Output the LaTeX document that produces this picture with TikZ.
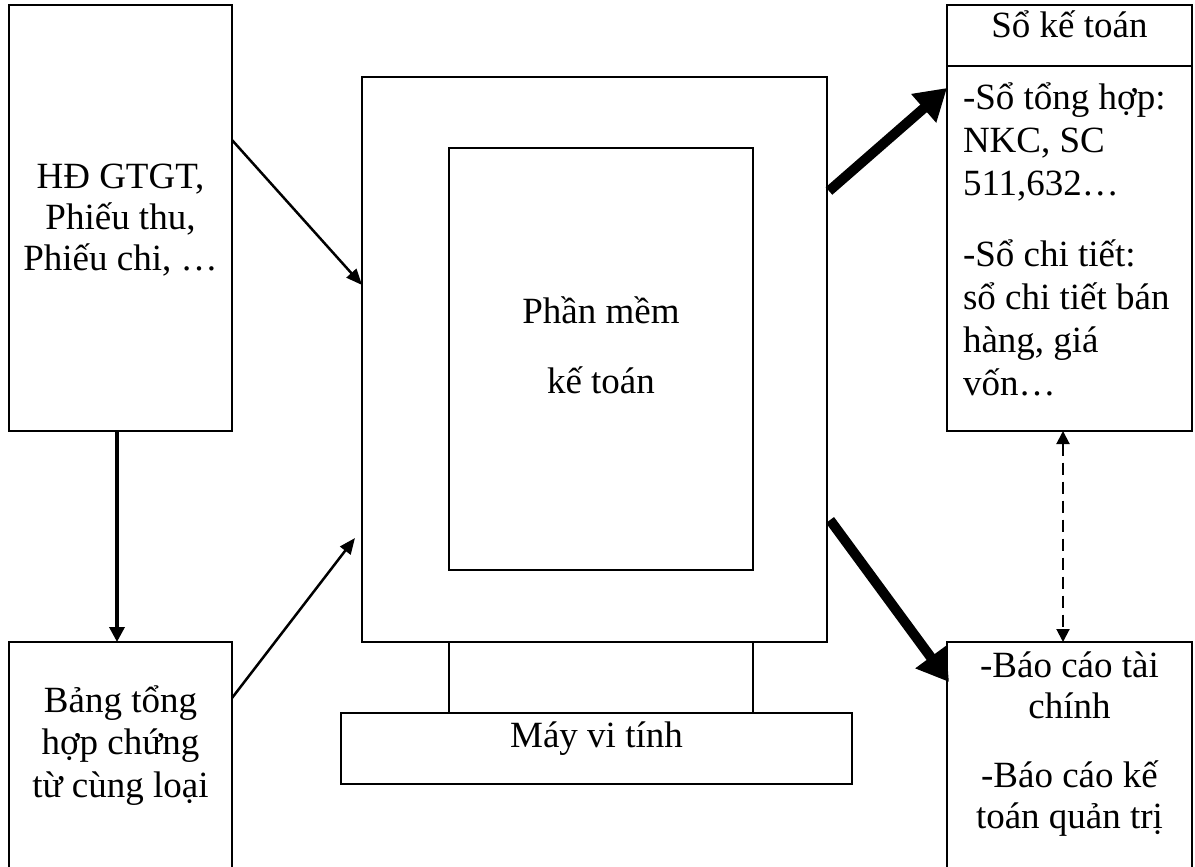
\documentclass[tikz,border=0pt]{standalone}
\usepackage{fontspec}
\setmainfont{Liberation Serif}
\usetikzlibrary{arrows.meta,calc}
\begin{document}
\begin{tikzpicture}[x=1pt,y=-1pt,
  box/.style={draw,line width=2pt,rectangle,inner sep=0pt,outer sep=0pt,anchor=north west},
  txt/.style={inner sep=0pt,outer sep=0pt,anchor=north,align=center,font=\fontsize{37pt}{#1}\selectfont},
  txt/.default=42pt,
  thinarrow/.style={line width=2.5pt,-{Triangle[length=16pt,width=13pt]}},
  downarrow/.style={line width=3.5pt,-{Triangle[length=15pt,width=15pt]}},
  thickarrow/.style={line width=10pt,-{Triangle[length=31pt,width=36pt]}},
  linkarrow/.style={line width=2pt,dash pattern=on 12pt off 7pt,{Triangle[length=13pt,width=13pt]}-{Triangle[length=13pt,width=13pt]}}]
\useasboundingbox (0,0) rectangle (1195,867);
\clip (0,0) rectangle (1195,867);

% source documents and summary table
\node[box,minimum width=223pt,minimum height=426pt] (src) at (9,5) {};
\node[box,minimum width=223pt,minimum height=260pt] (tbl) at (9,642) {};

% computer: monitor, screen, stand and base
\node[box,minimum width=465pt,minimum height=565pt] (monitor) at (362,77) {};
\node[box,minimum width=304pt,minimum height=422pt] (screen) at (449,148) {};
\node[box,minimum width=304pt,minimum height=71pt] (stand) at (449,642) {};
\node[box,minimum width=511pt,minimum height=71pt] (base) at (341,713) {};

% accounting books and reports
\node[box,minimum width=245pt,minimum height=61pt] (header) at (947,5) {};
\node[box,minimum width=245pt,minimum height=365pt] (ledger) at (947,66) {};
\node[box,minimum width=245pt,minimum height=260pt] (reports) at (947,642) {};

% texts
\node[txt=41pt] (srctext) at ($(src.north)+(0,147)$)
  {\rule{0pt}{36pt}HĐ GTGT,\\Phiếu thu,\\Phiếu chi, …};
\node[txt=42.5pt] (tbltext) at ($(tbl.north)+(0,34)$)
  {\rule{0pt}{36pt}Bảng tổng\\hợp chứng\\từ cùng loại};
\node[txt] (screentext) at ($(screen.north)+(0,139)$)
  {\rule{0pt}{36pt}Phần mềm\\[28pt]kế toán};
\node[txt] (basetext) at ($(base.north)+(0,-2)$)
  {\rule{0pt}{36pt}Máy vi tính};
\node[txt] (headtext) at ($(header.north)+(0,-3)$)
  {\rule{0pt}{36pt}Sổ kế toán};
\node[txt=43pt,anchor=north west,align=left] (ledgertext) at ($(ledger.north west)+(16,7)$)
  {\rule{0pt}{36pt}-Sổ tổng hợp:\\NKC, SC\\511,632…\\[28pt]-Sổ chi tiết:\\sổ chi tiết bán\\hàng, giá\\vốn…};
\node[txt=41pt] (reptext) at ($(reports.north)+(0,-1)$)
  {\rule{0pt}{36pt}-Báo cáo tài\\chính\\[28pt]-Báo cáo kế\\toán quản trị};

% connectors
\draw[downarrow] ($(src.south)+(-3.5,0)$) -- ($(tbl.north)+(-3.5,0)$);
\draw[thinarrow] ($(src.north east)+(0,135)$) -- ($(monitor.north west)+(0,208)$);
\draw[thinarrow] ($(tbl.north east)+(0,56)$) -- ($(monitor.south west)+(-7,-104)$);
\draw[thickarrow] ($(monitor.north east)+(2,114)$) -- ($(ledger.north west)+(0,22)$);
\draw[thickarrow] ($(monitor.north east)+(3,443)$) -- ($(reports.north west)+(2,40)$);
\draw[linkarrow] ($(ledger.south)+(-6.5,0)$) -- ($(reports.north)+(-6.5,0)$);
\end{tikzpicture}
\end{document}
